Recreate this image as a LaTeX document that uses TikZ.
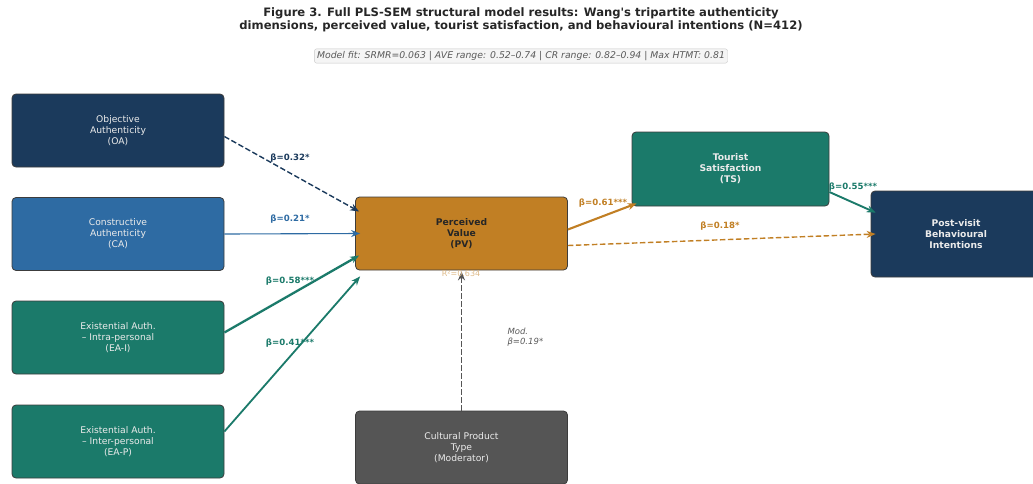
\documentclass[tikz,border=0pt]{standalone}
\usepackage{fontspec}
\setmainfont{DejaVu Sans}[Ligatures=TeXOff]
\usetikzlibrary{arrows.meta,calc}

\definecolor{oanavy}{RGB}{27,58,92}
\definecolor{cablue}{RGB}{46,107,163}
\definecolor{eateal}{RGB}{27,122,106}
\definecolor{pvorange}{RGB}{193,127,36}
\definecolor{modgray}{RGB}{85,85,85}
\definecolor{edgegray}{RGB}{60,60,60}

\begin{document}
\begin{tikzpicture}[x=1pt,y=-1pt,
  box/.style={draw=edgegray,line width=0.8pt,rounded corners=4pt,minimum width=212pt,minimum height=73pt,align=center,font=\fontsize{9.2}{11}\selectfont,text=white!92!black},
  bold box/.style={box,font=\fontsize{9.2}{11}\selectfont\bfseries},
  lab/.style={font=\fontsize{8.6}{10}\selectfont\bfseries},
  link/.style={-{Stealth[length=9pt,width=7pt]}},
  dashlink/.style={link,dash pattern=on 5.5pt off 2.5pt}]
\useasboundingbox (0,0) rectangle (1033,483);

% title and fit box
\node[font=\fontsize{11.6}{13}\selectfont\bfseries,align=center,text=black!85] (title) at (521,19.5) {Figure 3. Full PLS-SEM structural model results: Wang's tripartite authenticity\\dimensions, perceived value, tourist satisfaction, and behavioural intentions (N=412)};
\node[draw=gray!45,fill=gray!8,rounded corners=2pt,inner sep=2.5pt,font=\fontsize{9.3}{10}\selectfont\itshape,text=black!65] (fit) at (521,56) {Model fit: SRMR=0.063 | AVE range: 0.52–0.74 | CR range: 0.82–0.94 | Max HTMT: 0.81};

% constructs
\node[box,fill=oanavy] (OA) at (118,130.5) {Objective\\Authenticity\\(OA)};
\node[box,fill=cablue] (CA) at (118,234) {Constructive\\Authenticity\\(CA)};
\node[box,fill=eateal] (EAI) at (118,337.5) {Existential Auth.\\– Intra-personal\\(EA-I)};
\node[box,fill=eateal] (EAP) at (118,441.5) {Existential Auth.\\– Inter-personal\\(EA-P)};
\node[bold box,fill=pvorange,text=black!85] (PV) at (461.5,233.5) {Perceived\\Value\\(PV)};
\node[box,fill=modgray] (MOD) at (461.5,447.5) {Cultural Product\\Type\\(Moderator)};
\node[bold box,fill=eateal,minimum width=197pt,minimum height=74pt] (TS) at (730.5,169) {Tourist\\Satisfaction\\(TS)};
\node[bold box,fill=oanavy,minimum width=170pt,minimum height=86pt] (BI) at (956,234) {Post-visit\\Behavioural\\Intentions};

% paths into PV
\draw[dashlink,oanavy,line width=1.4pt] ($(OA.east)+(0,6)$) -- ($(PV.west)+(4,-22)$);
\draw[link,cablue,line width=1.1pt] (CA.east) -- ($(PV.west)+(5,0)$);
\draw[link,eateal,line width=2.3pt] ($(EAI.east)+(0,-5)$) -- ($(PV.west)+(4,22)$);
\draw[link,eateal,line width=1.8pt] ($(EAP.east)+(0,-10)$) -- ($(PV.south west)+(5,6)$);
\draw[dashlink,modgray,line width=1.3pt] (MOD.north) -- ($(PV.south)+(0,1)$);

% paths out of PV
\draw[link,pvorange,line width=2.1pt] ($(PV.east)+(0,-4)$) -- ($(TS.south west)+(5,-3)$);
\draw[dashlink,pvorange,line width=1.4pt] ($(PV.east)+(0,12)$) -- ($(BI.west)+(5,0)$);
\draw[link,eateal,line width=1.9pt] ($(TS.east)+(0,23)$) -- ($(BI.north west)+(5,22)$);

% labels
\node[lab,text=oanavy] (bOA) at (290,158) {β=0.32*};
\node[lab,text=cablue] (bCA) at (290,219) {β=0.21*};
\node[lab,text=eateal] (bEAI) at (290,281) {β=0.58***};
\node[lab,text=eateal] (bEAP) at (290,343) {β=0.41***};
\node[lab,text=pvorange] (bTS) at (603,203) {β=0.61***};
\node[lab,text=pvorange] (bBI) at (720,226) {β=0.18*};
\node[lab,text=eateal] (bTB) at (853,187) {β=0.55***};
\node[font=\fontsize{8}{9}\selectfont,text=pvorange!55] (r2) at (461,274) {R²=0.634};
\node[anchor=west,align=left,font=\fontsize{8.5}{9.5}\selectfont\itshape,text=black!65] (bMOD) at (504,337) {Mod.\\β=0.19*};
\end{tikzpicture}
\end{document}
